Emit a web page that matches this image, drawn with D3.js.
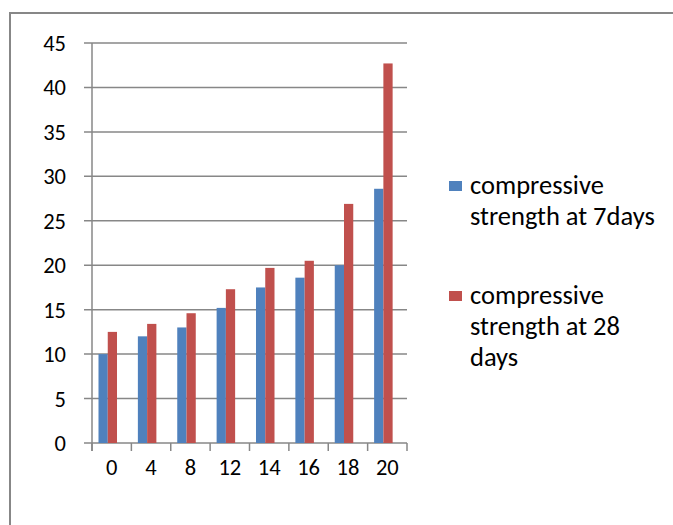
<!DOCTYPE html>
<html><head><meta charset="utf-8">
<script src="https://cdn.jsdelivr.net/npm/d3@7"></script>
<style>body{margin:0;background:#fff}svg{display:block}text{font-family:Carlito,Lato,"Open Sans",sans-serif;fill:#000}</style>
</head><body>
<script>
const categories = ["0","4","8","12","14","16","18","20"];
const seriesNames = ["compressive strength at 7days","compressive strength at 28 days"];
const strength7 = [10.0,12.0,13.0,15.2,17.5,18.6,20.0,28.6];
const strength28 = [12.5,13.4,14.6,17.3,19.7,20.5,26.9,42.7];
const yTicks = [0,5,10,15,20,25,30,35,40,45];
const legendLines = [["compressive","strength at 7days"],["compressive","strength at 28","days"]];
const colors = ["#4F81BD","#C0504D"];

const W=673,H=525;
const svg=d3.select("body").append("svg").attr("width",W).attr("height",H);
svg.append("rect").attr("x",10).attr("y",13).attr("width",700).attr("height",560)
  .attr("fill","none").attr("stroke","#878787").attr("stroke-width",2);

const x=d3.scaleBand().domain(categories).range([92,407]).padding(0);
const y=d3.scaleLinear().domain([0,45]).range([443,43]);
const bw=x.bandwidth();
const xi=d3.scaleBand().domain([0,1]).range([bw*0.165,bw*0.165+bw*0.47]).padding(0);

// gridlines
svg.append("g").selectAll("line").data(yTicks).join("line")
  .attr("x1",84).attr("x2",407).attr("y1",d=>y(d)).attr("y2",d=>y(d))
  .attr("stroke","#878787").attr("stroke-width",1.5);

// bars
const data=categories.map((c,i)=>({c,v:[strength7[i],strength28[i]]}));
const g=svg.append("g");
data.forEach(d=>{
  d.v.forEach((v,j)=>{
    g.append("rect").attr("x",x(d.c)+xi(j)).attr("width",xi.bandwidth())
     .attr("y",y(v)).attr("height",y(0)-y(v)).attr("fill",colors[j]);
  });
});

// y axis line
svg.append("line").attr("x1",92).attr("x2",92).attr("y1",43).attr("y2",451)
  .attr("stroke","#878787").attr("stroke-width",1.5);
// x ticks
const bounds=categories.map(c=>x(c)).concat([407]);
svg.append("g").selectAll("line").data(bounds).join("line")
  .attr("x1",d=>d).attr("x2",d=>d).attr("y1",443).attr("y2",451)
  .attr("stroke","#878787").attr("stroke-width",1.5);

// y labels
svg.append("g").selectAll("text").data(yTicks).join("text")
  .attr("x",66).attr("y",d=>y(d)+8).attr("text-anchor","end")
  .attr("font-size",22.5).text(d=>d);
// x labels
svg.append("g").selectAll("text").data(categories).join("text")
  .attr("x",d=>x(d)+bw/2).attr("y",475).attr("text-anchor","middle")
  .attr("font-size",22.5).text(d=>d);

// legend
const legY=[181,291];
legendLines.forEach((lines,i)=>{
  svg.append("rect").attr("x",449).attr("y",legY[i]).attr("width",13).attr("height",10).attr("fill",colors[i]);
  lines.forEach((t,k)=>{
    svg.append("text").attr("x",470).attr("y",legY[i]+13+k*31).attr("font-size",26.5).text(t);
  });
});
</script>
</body></html>
